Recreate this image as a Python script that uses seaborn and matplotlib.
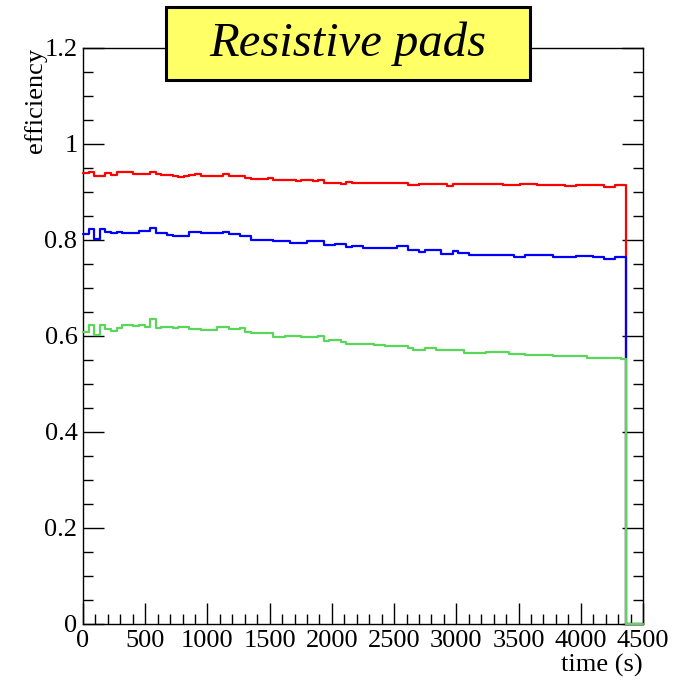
import numpy as np
import pandas as pd
import matplotlib
matplotlib.use("Agg")
import matplotlib.pyplot as plt
from matplotlib.patches import Rectangle
from matplotlib.ticker import MultipleLocator
import seaborn as sns

# ---- data (bin contents, 100 bins of 45 s over 0-4500 s) ----
n_bins = 100
t_range = (0, 4500)
series_names = ["red", "blue", "green"]

eff_red = [0.939, 0.941, 0.933, 0.933, 0.939, 0.935, 0.942, 0.942, 0.941, 0.937,
           0.937, 0.938, 0.942, 0.938, 0.935, 0.935, 0.934, 0.932, 0.934, 0.935,
           0.937, 0.934, 0.934, 0.934, 0.934, 0.937, 0.934, 0.934, 0.934, 0.930,
           0.928, 0.928, 0.927, 0.930, 0.926, 0.924, 0.924, 0.924, 0.923, 0.924,
           0.924, 0.923, 0.924, 0.919, 0.919, 0.919, 0.917, 0.920, 0.919, 0.919,
           0.918, 0.918, 0.918, 0.918, 0.919, 0.919, 0.919, 0.919, 0.915, 0.915,
           0.917, 0.917, 0.917, 0.917, 0.917, 0.913, 0.916, 0.916, 0.916, 0.916,
           0.916, 0.917, 0.917, 0.917, 0.917, 0.914, 0.914, 0.914, 0.916, 0.916,
           0.916, 0.914, 0.914, 0.914, 0.914, 0.914, 0.913, 0.913, 0.915, 0.915,
           0.915, 0.914, 0.914, 0.911, 0.911, 0.915, 0.914, 0.0, 0.0, 0.0]

eff_blue = [0.8125, 0.822, 0.802, 0.822, 0.817, 0.814, 0.817, 0.814, 0.814, 0.815,
            0.819, 0.819, 0.826, 0.814, 0.814, 0.810, 0.809, 0.809, 0.809, 0.816,
            0.816, 0.815, 0.815, 0.815, 0.815, 0.817, 0.8125, 0.8125, 0.808, 0.808,
            0.801, 0.801, 0.800, 0.800, 0.7985, 0.7985, 0.7985, 0.794, 0.794, 0.794,
            0.797, 0.797, 0.797, 0.7896, 0.7896, 0.791, 0.791, 0.786, 0.7875, 0.7875,
            0.784, 0.784, 0.784, 0.784, 0.783, 0.783, 0.7865, 0.7865, 0.779, 0.779,
            0.776, 0.779, 0.779, 0.779, 0.771, 0.771, 0.778, 0.773, 0.773, 0.769,
            0.769, 0.769, 0.769, 0.769, 0.769, 0.769, 0.769, 0.765, 0.765, 0.768,
            0.768, 0.768, 0.768, 0.768, 0.764, 0.764, 0.764, 0.764, 0.767, 0.767,
            0.767, 0.764, 0.764, 0.760, 0.760, 0.765, 0.765, 0.0, 0.0, 0.0]

eff_green = [0.609, 0.622, 0.602, 0.622, 0.614, 0.610, 0.616, 0.622, 0.622, 0.620,
             0.623, 0.619, 0.635, 0.616, 0.619, 0.618, 0.616, 0.619, 0.619, 0.614,
             0.614, 0.6125, 0.6125, 0.6125, 0.619, 0.619, 0.614, 0.614, 0.617, 0.609,
             0.6056, 0.6056, 0.6056, 0.6056, 0.597, 0.597, 0.599, 0.599, 0.599, 0.598,
             0.598, 0.598, 0.601, 0.590, 0.591, 0.591, 0.587, 0.583, 0.583, 0.583,
             0.583, 0.583, 0.582, 0.582, 0.580, 0.580, 0.580, 0.580, 0.574, 0.571,
             0.571, 0.574, 0.574, 0.571, 0.571, 0.571, 0.570, 0.570, 0.564, 0.564,
             0.564, 0.564, 0.567, 0.567, 0.567, 0.567, 0.562, 0.562, 0.562, 0.561,
             0.561, 0.561, 0.561, 0.561, 0.559, 0.559, 0.559, 0.559, 0.559, 0.559,
             0.5535, 0.5535, 0.5535, 0.555, 0.555, 0.555, 0.5515, 0.0, 0.0, 0.0]

title_text = "Resistive pads"
x_label = "time (s)"
y_label = "efficiency"
line_colors = {"red": "#ff0000", "blue": "#0000ff", "green": "#5ad65a"}

# ---- build table ----
bin_edges = np.linspace(t_range[0], t_range[1], n_bins + 1)
centers = 0.5 * (bin_edges[:-1] + bin_edges[1:])
df = pd.concat([
    pd.DataFrame({"time": centers, "eff": vals, "series": name})
    for name, vals in zip(series_names, [eff_red, eff_blue, eff_green])
], ignore_index=True)

sns.set_theme(style="white")
plt.rcParams["font.family"] = ["Liberation Serif", "DejaVu Serif"]

W, H = 673, 683
fig = plt.figure(figsize=(W / 100, H / 100), dpi=100)
ax = fig.add_axes([83 / W, 1 - 624 / H, (643 - 83) / W, (624 - 48) / H])

for name in series_names:
    sub = df[df["series"] == name]
    sns.histplot(data=sub, x="time", weights="eff", bins=n_bins, binrange=t_range,
                 element="step", fill=False, color=line_colors[name],
                 linewidth=1.6, ax=ax, legend=False, zorder=3)

for ln in ax.lines:
    ln.set_clip_on(False)

ax.set_xlim(0, 4500)
ax.set_ylim(0, 1.2)
ax.set_xlabel("")
ax.set_ylabel("")

ax.xaxis.set_major_locator(MultipleLocator(500))
ax.xaxis.set_minor_locator(MultipleLocator(100))
ax.yaxis.set_major_locator(MultipleLocator(0.2))
ax.yaxis.set_minor_locator(MultipleLocator(0.05))

def fmt_y(v, pos):
    if abs(v) < 1e-9:
        return "0"
    if abs(v - 1.0) < 1e-9:
        return "1"
    return f"{v:.1f}"

ax.yaxis.set_major_formatter(plt.FuncFormatter(fmt_y))
ax.xaxis.set_major_formatter(plt.FuncFormatter(lambda v, p: f"{int(round(v))}"))

ax.tick_params(axis="both", which="major", direction="in", length=15, width=1,
               color="black", labelsize=19, labelcolor="black",
               left=True, bottom=True, right=True, top=False)
ax.tick_params(axis="both", which="minor", direction="in", length=7.5, width=1,
               color="black", left=True, bottom=True, right=True, top=False)
ax.tick_params(axis="x", which="major", pad=4)
ax.tick_params(axis="y", which="major", pad=4)

for sp in ax.spines.values():
    sp.set_color("black")
    sp.set_linewidth(1.0)
    sp.set_visible(True)
    sp.set_zorder(2)

# axis titles
fig.text(36 / W, 1 - 48 / H, y_label, rotation=90, ha="center", va="top",
         fontsize=19, color="black")
fig.text(643 / W, 1 - 672 / H, x_label, ha="right", va="baseline",
         fontsize=19, color="black")

# title box
rect = Rectangle((166 / W, 1 - 80 / H), (530 - 166) / W, (80 - 7) / H,
                 transform=fig.transFigure, facecolor="#ffff66",
                 edgecolor="black", linewidth=2.2, zorder=10)
fig.patches.append(rect)
fig.text(348 / W, 1 - 44 / H, title_text, ha="center", va="center",
         fontsize=35, style="italic", color="black", zorder=11)

fig.savefig("out.png", dpi=100)
